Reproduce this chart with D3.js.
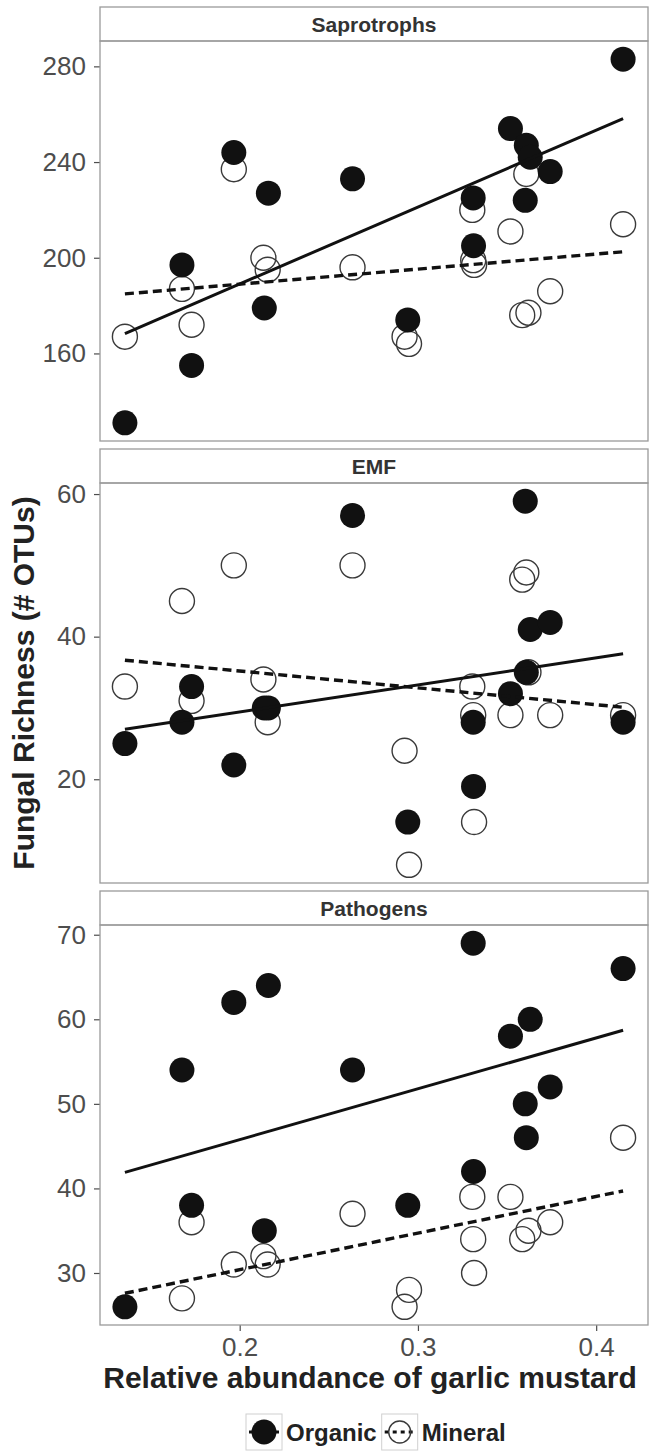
<!DOCTYPE html>
<html>
<head>
<meta charset="utf-8">
<script src="https://cdn.jsdelivr.net/npm/d3@7"></script>
<style>
  body { margin: 0; background: #fff; }
  svg { display: block; font-family: 'Liberation Sans', Arial, sans-serif; }
</style>
</head>
<body>
<svg id="chart" width="653" height="1452"></svg>
<script>
'use strict';

// panels and ticks
var panelNames = ['Saprotrophs', 'EMF', 'Pathogens'];
var xTicks = [0.2, 0.3, 0.4];
var sapTicks = [160, 200, 240, 280];
var emfTicks = [20, 40, 60];
var pathTicks = [30, 40, 50, 60, 70];

// organic horizon sites (relative abundance of garlic mustard)
var orgX = [0.1356, 0.1676, 0.173, 0.1967, 0.2138, 0.2161, 0.2633, 0.2943,
            0.331, 0.3312, 0.3519, 0.3602, 0.3608, 0.363, 0.3742, 0.4151];
var sapOrg  = [131, 197, 155, 244, 179, 227, 233, 174, 225, 205, 254, 224, 247, 242, 236, 283];
var emfOrg  = [25, 28, 33, 22, 30, 30, 57, 14, 28, 19, 32, 59, 35, 41, 42, 28];
var pathOrg = [26, 54, 38, 62, 35, 64, 54, 38, 69, 42, 58, 50, 46, 60, 52, 66];

// mineral horizon sites (null = hidden under another point)
var minX = [0.1356, 0.1676, 0.173, 0.1967, 0.2133, 0.2157, 0.2633, 0.2925, 0.295,
            0.3305, 0.331, 0.3315, 0.3519, 0.3585, 0.3608, 0.362, 0.3742, 0.4151];
var sapMin  = [167, 187, 172, 237, 200, 195, 196, 167, 164, 220, 199, 197, 211, 176, 235, 177, 186, 214];
var emfMin  = [33, 45, 31, 50, 34, 28, 50, 24, 8, 33, 29, 14, 29, 48, 49, 35, 29, 29];
var pathMin = [null, 27, 36, 31, 32, 31, 37, 26, 28, 39, 34, 30, 39, 34, null, 35, 36, 46];

// fitted lines (lm), ends
var fitX = [0.1356, 0.4151];
var sapOrgFit = [168.3, 258.2], sapMinFit = [184.9, 202.5];
var emfOrgFit = [27.0, 37.6],   emfMinFit = [36.7, 30.1];
var pathOrgFit = [41.9, 58.7],  pathMinFit = [27.6, 39.7];

var legendLabels = ['Organic', 'Mineral'];

var ui = {
  left: 100, right: 648, top: 7,
  strip: 34, plot: 400, gap: 8,
  r: 12.5, ink: '#111', grey: '#4d4d4d', border: '#9a9a9a'
};

var panels = [
  {name: panelNames[0], ticks: sapTicks,  org: sapOrg,  min: sapMin,  orgFit: sapOrgFit,  minFit: sapMinFit},
  {name: panelNames[1], ticks: emfTicks,  org: emfOrg,  min: emfMin,  orgFit: emfOrgFit,  minFit: emfMinFit},
  {name: panelNames[2], ticks: pathTicks, org: pathOrg, min: pathMin, orgFit: pathOrgFit, minFit: pathMinFit}
];

// ggplot-like 5% expansion
function expand(ext){ var d = (ext[1]-ext[0])*0.05; return [ext[0]-d, ext[1]+d]; }

var svg = d3.select('#chart');

var x = d3.scaleLinear()
    .domain(expand(d3.extent(orgX.concat(minX))))
    .range([ui.left, ui.right]);

var line = d3.line();

panels.forEach(function(p, i){
  var stripTop = ui.top + i*(ui.strip+ui.plot+ui.gap),
      top = stripTop + ui.strip, bottom = top + ui.plot;

  var all = p.org.concat(p.min.filter(function(v){ return v!==null; }))
      .concat(p.orgFit).concat(p.minFit);
  var y = d3.scaleLinear().domain(expand(d3.extent(all))).range([bottom, top]);

  var g = svg.append('g').attr('class', 'panel');

  // strip
  g.append('rect')
      .attr('x', ui.left).attr('y', stripTop)
      .attr('width', ui.right-ui.left).attr('height', ui.strip)
      .style('fill', '#fff').style('stroke', ui.border).style('stroke-width', 1.3);
  g.append('text')
      .attr('x', (ui.left+ui.right)/2).attr('y', stripTop+ui.strip/2)
      .attr('dy', '0.36em')
      .style('text-anchor', 'middle')
      .style('font-size', '21px').style('font-weight', 'bold').style('fill', '#333')
      .text(p.name);

  // y axis
  var ya = g.append('g')
      .attr('transform', 'translate(' + ui.left + ',0)')
      .call(d3.axisLeft(y).tickValues(p.ticks).tickSize(6).tickPadding(8));
  ya.select('.domain').remove();
  ya.selectAll('line').style('stroke', ui.grey).style('stroke-width', 1.2);
  ya.selectAll('text').style('font-size', '26px').style('fill', ui.grey)
      .style('font-family', "'Liberation Sans', Arial, sans-serif");

  // x axis on the bottom panel only
  if (i === panels.length-1){
    var xa = g.append('g')
        .attr('transform', 'translate(0,' + bottom + ')')
        .call(d3.axisBottom(x).tickValues(xTicks).tickSize(6).tickPadding(7)
          .tickFormat(d3.format('.1f')));
    xa.select('.domain').remove();
    xa.selectAll('line').style('stroke', ui.grey).style('stroke-width', 1.2);
    xa.selectAll('text').style('font-size', '26px').style('fill', ui.grey)
        .style('font-family', "'Liberation Sans', Arial, sans-serif");
  }

  // points: mineral (open) under organic (filled)
  g.selectAll('.min')
      .data(minX.map(function(v, k){ return [v, p.min[k]]; })
        .filter(function(d){ return d[1]!==null; }))
      .enter().append('circle')
      .attr('class', 'min')
      .attr('cx', function(d){ return x(d[0]); })
      .attr('cy', function(d){ return y(d[1]); })
      .attr('r', ui.r)
      .style('fill', 'none').style('stroke', '#3a3a3a').style('stroke-width', 1.4);

  g.selectAll('.org')
      .data(orgX.map(function(v, k){ return [v, p.org[k]]; }))
      .enter().append('circle')
      .attr('class', 'org')
      .attr('cx', function(d){ return x(d[0]); })
      .attr('cy', function(d){ return y(d[1]); })
      .attr('r', ui.r)
      .style('fill', ui.ink);

  // fitted lines
  g.append('path')
      .attr('d', line(fitX.map(function(v, k){ return [x(v), y(p.orgFit[k])]; })))
      .style('fill', 'none').style('stroke', ui.ink).style('stroke-width', 3);
  g.append('path')
      .attr('d', line(fitX.map(function(v, k){ return [x(v), y(p.minFit[k])]; })))
      .style('fill', 'none').style('stroke', ui.ink).style('stroke-width', 3.4)
      .style('stroke-dasharray', '9,5');

  // panel border
  g.append('rect')
      .attr('x', ui.left).attr('y', top)
      .attr('width', ui.right-ui.left).attr('height', ui.plot)
      .style('fill', 'none').style('stroke', ui.border).style('stroke-width', 1.3);
});

var plotTop = ui.top + ui.strip,
    plotBottom = ui.top + 3*(ui.strip+ui.plot) + 2*ui.gap;

// axis titles
svg.append('text')
    .attr('transform', 'translate(34,' + (plotTop+plotBottom)/2 + ') rotate(-90)')
    .style('text-anchor', 'middle')
    .style('font-size', '30px').style('font-weight', 'bold').style('fill', '#222')
    .text('Fungal Richness (# OTUs)');

svg.append('text')
    .attr('x', (ui.left+ui.right)/2 - 4).attr('y', plotBottom + 63)
    .style('text-anchor', 'middle')
    .style('font-size', '30px').style('font-weight', 'bold').style('fill', '#222')
    .text('Relative abundance of garlic mustard');

// legend
var lg = svg.append('g').attr('transform', 'translate(0,1432)');
var keyW = 36, lx = 246;
legendLabels.forEach(function(name, k){
  var key = lg.append('g').attr('transform', 'translate(' + lx + ',0)');
  key.append('rect')
      .attr('x', 0).attr('y', -18).attr('width', keyW).attr('height', 36)
      .style('fill', '#fff').style('stroke', '#d0d0d0').style('stroke-width', 1);
  key.append('line')
      .attr('x1', 3).attr('x2', keyW-3).attr('y1', 0).attr('y2', 0)
      .style('stroke', ui.ink).style('stroke-width', 3)
      .style('stroke-dasharray', k ? '4,4' : null);
  key.append('circle')
      .attr('cx', keyW/2).attr('cy', 0).attr('r', k ? 11 : 12.5)
      .style('fill', k ? 'none' : ui.ink)
      .style('stroke', k ? '#3a3a3a' : 'none').style('stroke-width', 1.4);
  var t = lg.append('text')
      .attr('x', lx + keyW + 4).attr('y', 0).attr('dy', '0.36em')
      .style('font-size', '24px').style('font-weight', 'bold').style('fill', '#222')
      .text(name);
  lx += keyW + 4 + t.node().getComputedTextLength() + 5;
});
</script>
</body>
</html>
